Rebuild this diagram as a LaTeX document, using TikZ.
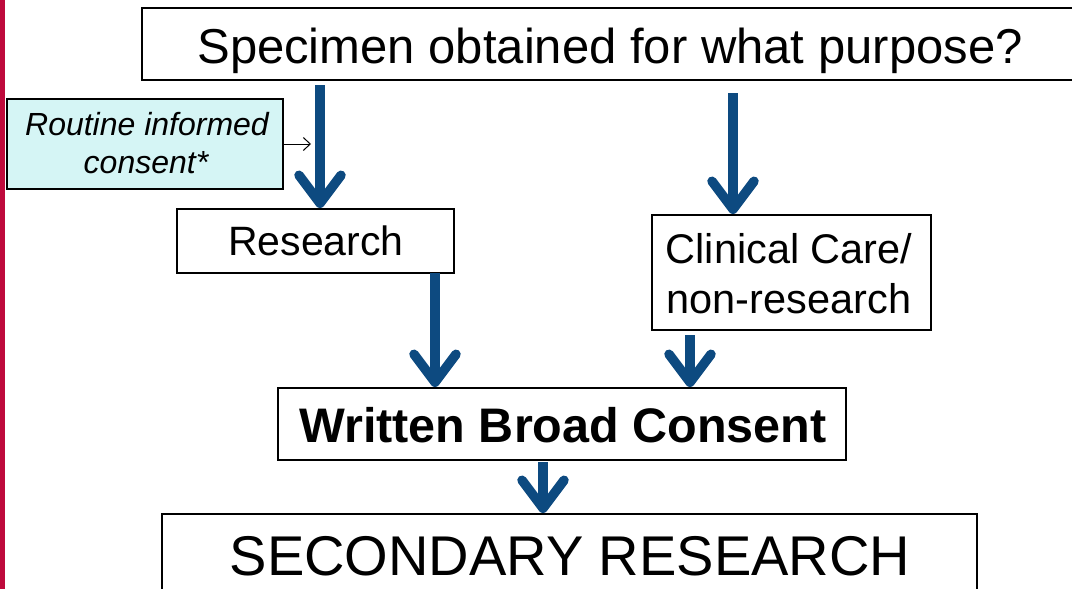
\documentclass[tikz,border=0pt]{standalone}
\usepackage{fontspec}
\setmainfont{Liberation Sans}
\usetikzlibrary{arrows.meta}
\definecolor{flowblue}{HTML}{0D4A80}
\definecolor{barred}{HTML}{BE0A3C}
\definecolor{cyanfill}{HTML}{D5F5F5}
\tikzset{
  frame/.style={draw=black, line width=1.2pt, fill=white, inner sep=0pt, outer sep=0pt, anchor=north west},
  txt/.style={anchor=base, inner sep=0pt},
  flow/.style={draw=flowblue, line width=10pt,
    -{Straight Barb[length=28pt, width=42pt, line width=9.5pt, round]}, shorten >=1pt},
  thinarrow/.style={draw=black, line width=1pt, -{Straight Barb[length=7pt, width=13pt]}}
}
\begin{document}
\begin{tikzpicture}[x=1pt,y=-1pt]
\useasboundingbox (0,0) rectangle (1072,589);
\clip (0,0) rectangle (1072,589);
\fill[barred] (0,0) rectangle (5,589);

% boxes
\node[frame, minimum width=940pt, minimum height=72pt] (top) at (142,8) {};
\node[frame, fill=cyanfill, minimum width=276pt, minimum height=90pt] (rc) at (7,99) {};
\node[frame, minimum width=277pt, minimum height=64pt] (res) at (177,209) {};
\node[frame, minimum width=279pt, minimum height=115pt] (clin) at (652,215) {};
\node[frame, minimum width=568pt, minimum height=72pt] (wbc) at (278,388) {};
\node[frame, minimum width=815pt, minimum height=100pt] (sec) at (162,514) {};

% texts
\node[txt, font=\fontsize{49pt}{58pt}\selectfont] (toptxt) at (610,63) {Specimen obtained for what purpose?};
\node[txt, font=\itshape\fontsize{32pt}{38pt}\selectfont] (rc1) at (147,135) {Routine informed};
\node[txt, font=\itshape\fontsize{32pt}{38pt}\selectfont] (rc2) at (146,173) {consent*};
\node[txt, font=\fontsize{41pt}{49pt}\selectfont] (restxt) at (316,255) {Research};
\node[txt, font=\fontsize{41.5pt}{49pt}\selectfont] (cl1) at (789,263) {Clinical Care/};
\node[txt, font=\fontsize{41.5pt}{49pt}\selectfont] (cl2) at (789,313) {non-research};
\node[txt, font=\bfseries\fontsize{48.5pt}{58pt}\selectfont] (wbctxt) at (563,442) {Written Broad Consent};
\node[txt, font=\fontsize{56pt}{67pt}\selectfont] (sectxt) at (570,575) {SECONDARY RESEARCH};

% arrows
\coordinate (s1) at (320,85);
\coordinate (s2) at (733,93);
\coordinate (s3) at (435,0);
\coordinate (s4) at (690,335);
\coordinate (s5) at (543,0);
\draw[flow] (s1) -- (s1 |- res.north);
\draw[flow] (s2) -- (s2 |- clin.north);
\draw[flow] (s3 |- res.south) -- (s3 |- wbc.north);
\draw[flow] (s4) -- (s4 |- wbc.north);
\draw[flow] ([yshift=-2pt]s5 |- wbc.south) -- (s5 |- sec.north);

\coordinate (tend) at (311,144);
\draw[thinarrow] (rc.east |- tend) -- (tend);
\end{tikzpicture}
\end{document}
